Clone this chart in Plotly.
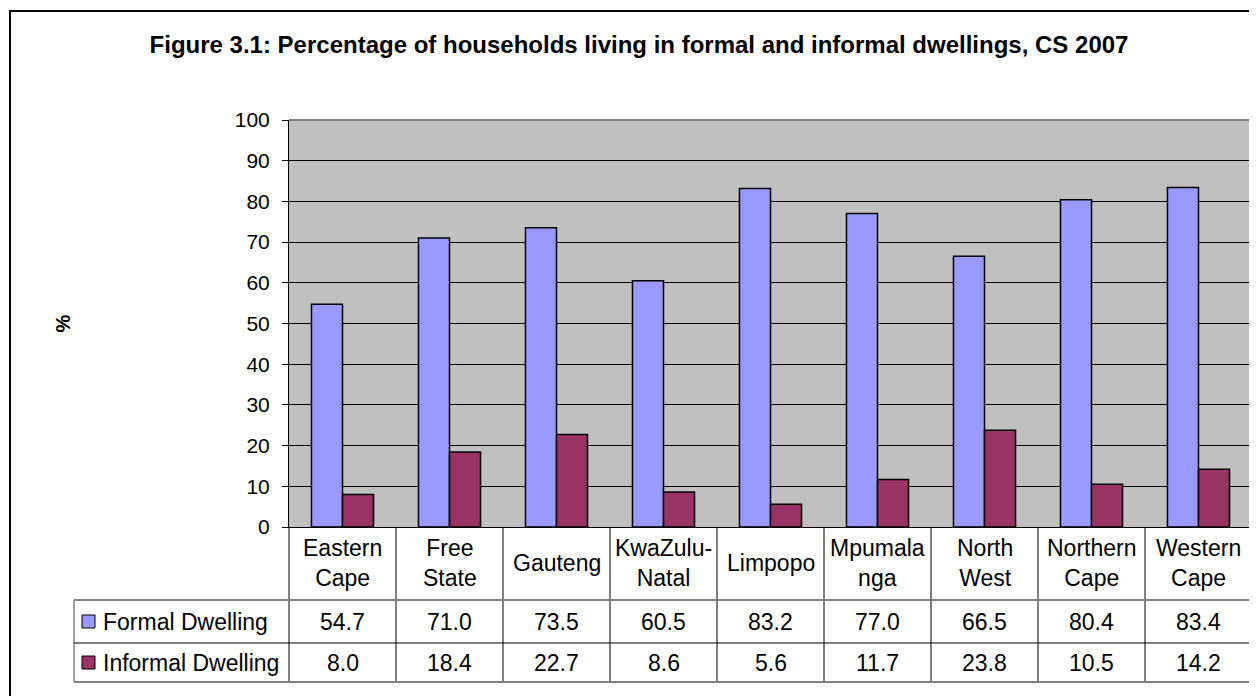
import plotly.graph_objects as go

# data
provinces = ['Eastern Cape', 'Free State', 'Gauteng', 'KwaZulu-Natal', 'Limpopo',
             'Mpumalanga', 'North West', 'Northern Cape', 'Western Cape']
cat_labels = ['Eastern<br>Cape', 'Free<br>State', 'Gauteng', 'KwaZulu-<br>Natal', 'Limpopo',
              'Mpumala<br>nga', 'North<br>West', 'Northern<br>Cape', 'Western<br>Cape']
formal = [54.7, 71.0, 73.5, 60.5, 83.2, 77.0, 66.5, 80.4, 83.4]
informal = [8.0, 18.4, 22.7, 8.6, 5.6, 11.7, 23.8, 10.5, 14.2]
series_names = ['Formal Dwelling', 'Informal Dwelling']
series_colors = ['#9999FF', '#993366']
y_ticks = [0, 10, 20, 30, 40, 50, 60, 70, 80, 90, 100]

# page offset (body margin) -- positions below are measured in page pixels
OFF = 8
W, H = 1257 - OFF, 696 - OFF
PL, PR, PT, PB = 289, 1252, 120, 527   # plot area, page pixels
FONT = 'Arial, Liberation Sans, sans-serif'


def px(x):
    return (x - PL) / (PR - PL)


def py(y):
    return (PB - y) / (PB - PT)


fig = go.Figure()
for name, vals, col in zip(series_names, [formal, informal], series_colors):
    fig.add_trace(go.Bar(x=provinces, y=vals, name=name,
                         marker=dict(color=col, line=dict(color='black', width=1.5))))

fig.update_layout(
    width=W, height=H, autosize=False,
    margin=dict(l=PL - OFF, r=W - (PR - OFF), t=PT - OFF, b=H - (PB - OFF), pad=0),
    paper_bgcolor='white', plot_bgcolor='#C0C0C0',
    barmode='group', bargap=0.42, bargroupgap=0,
    showlegend=False,
    font=dict(family=FONT, color='black'),
    title=dict(text='<b>Figure 3.1: Percentage of households living in formal and informal dwellings, CS 2007</b>',
               x=(639 - OFF) / W, xref='container', xanchor='center',
               y=1 - (45 - OFF) / H, yref='container', yanchor='middle',
               font=dict(size=24, family=FONT, color='black')),
)
fig.update_xaxes(showticklabels=False, ticks='', showgrid=False, zeroline=False,
                 showline=True, linecolor='black', linewidth=1,
                 range=[-0.5, len(provinces) - 0.5])
fig.update_yaxes(range=[0, 100], tickvals=y_ticks, ticks='outside', ticklen=6,
                 tickcolor='black', tickfont=dict(size=21, family=FONT),
                 ticklabelstandoff=8,
                 showgrid=True, gridcolor='black', gridwidth=1, zeroline=False,
                 showline=True, linecolor='black', linewidth=1)

shapes = []
# outer chart border
shapes.append(dict(type='rect', xref='paper', yref='paper',
                   x0=px(10), x1=px(1275), y0=py(715), y1=py(11),
                   line=dict(color='black', width=2), fillcolor='rgba(0,0,0,0)'))
# plot area top and right border
shapes.append(dict(type='line', xref='paper', yref='paper', x0=0, x1=1, y0=1, y1=1,
                   line=dict(color='#808080', width=2)))
shapes.append(dict(type='line', xref='paper', yref='paper', x0=1, x1=1, y0=1, y1=py(682),
                   line=dict(color='#808080', width=2)))

# data table grid
n = len(provinces)
for i in range(n):
    shapes.append(dict(type='line', xref='paper', yref='paper',
                       x0=i / n, x1=i / n, y0=0, y1=py(682),
                       line=dict(color='black', width=1)))
shapes.append(dict(type='line', xref='paper', yref='paper', x0=px(74), x1=px(74),
                   y0=py(600), y1=py(682), line=dict(color='#808080', width=1.5)))
for yy, col, wd in [(600, '#808080', 2), (643, 'black', 1), (682, '#808080', 2)]:
    shapes.append(dict(type='line', xref='paper', yref='paper', x0=px(74), x1=1,
                       y0=py(yy), y1=py(yy), line=dict(color=col, width=wd)))

annotations = []
# y axis title
annotations.append(dict(text='<b>%</b>', xref='paper', yref='paper', x=px(49), y=0.5,
                        showarrow=False, textangle=-90, font=dict(size=20, family=FONT)))
# category labels
for prov, lab in zip(provinces, cat_labels):
    annotations.append(dict(text=lab, xref='x', yref='paper', x=prov, y=py(563),
                            showarrow=False, font=dict(size=23, family=FONT),
                            xanchor='center', yanchor='middle'))
# table rows
row_centers = [621.5, 662.5]
for name, vals, col, yc in zip(series_names, [formal, informal], series_colors, row_centers):
    shapes.append(dict(type='rect', xref='paper', yref='paper',
                       x0=px(82), x1=px(95), y0=py(yc + 6.5), y1=py(yc - 6.5),
                       fillcolor=col, line=dict(color='black', width=1)))
    annotations.append(dict(text=name, xref='paper', yref='paper', x=px(101), y=py(yc),
                            showarrow=False, xanchor='left', yanchor='middle',
                            font=dict(size=23, family=FONT)))
    for prov, v in zip(provinces, vals):
        annotations.append(dict(text=f'{v:.1f}', xref='x', yref='paper', x=prov, y=py(yc),
                                showarrow=False, xanchor='center', yanchor='middle',
                                font=dict(size=23, family=FONT)))

fig.update_layout(shapes=shapes, annotations=annotations)
fig.write_html("out.html")
